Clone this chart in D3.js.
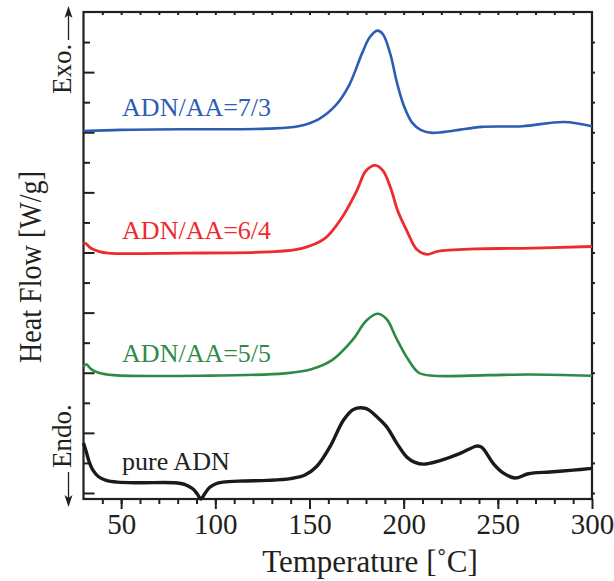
<!DOCTYPE html>
<html>
<head>
<meta charset="utf-8">
<script src="https://cdn.jsdelivr.net/npm/d3@7"></script>
<style>
  body { margin: 0; background: #fff; }
  svg text { font-family: "Liberation Serif", "Times New Roman", serif; }
</style>
</head>
<body>
<div id="chart"></div>
<script>
// DSC curves, heat flow (arbitrary, stacked units)
const pureT  = [30, 31.5, 33, 35, 38, 42, 48, 60, 78, 84, 88, 90.5, 92.3, 94.2, 96.9, 100, 104, 115, 127.6, 140, 147.6, 153.8, 160.9, 168, 173.3, 179.5, 182, 185.7, 191, 196.3, 201.6, 206, 210.5, 219.3, 230, 238.8, 241.5, 247.6, 253, 259.2, 266.2, 277.7, 290, 300];
const pureHF = [0.83, 0.68, 0.52, 0.38, 0.27, 0.21, 0.18, 0.17, 0.17, 0.14, 0.07, -0.02, -0.1, -0.02, 0.09, 0.15, 0.18, 0.20, 0.21, 0.24, 0.30, 0.44, 0.77, 1.21, 1.39, 1.41, 1.37, 1.27, 1.10, 0.83, 0.60, 0.51, 0.48, 0.54, 0.66, 0.78, 0.76, 0.49, 0.33, 0.25, 0.32, 0.35, 0.38, 0.41];

const r55T  = [30, 31.5, 34, 38, 46, 93, 137, 151, 162, 173, 180, 186, 191, 196, 202, 208, 216, 245, 267, 300];
const r55HF = [2.10, 2.14, 2.06, 2.00, 1.96, 1.95, 1.99, 2.06, 2.21, 2.55, 2.86, 2.98, 2.89, 2.58, 2.24, 2.00, 1.95, 1.96, 1.97, 1.95];

const r64T  = [30, 31, 34, 38, 43, 82, 128, 146, 158, 167, 175, 180, 185, 189, 193, 197, 202, 207, 212.6, 218, 238, 263, 300];
const r64HF = [4.14, 4.15, 4.07, 4.02, 3.99, 3.99, 4.01, 4.07, 4.23, 4.57, 5.02, 5.36, 5.45, 5.36, 5.08, 4.68, 4.34, 4.05, 3.97, 4.02, 4.06, 4.07, 4.10];

const r73T  = [30, 50, 82, 110, 128, 144, 155, 164, 171, 178, 182, 186, 189, 193, 196.3, 200, 204.5, 209, 215, 227, 241.5, 263, 285, 300];
const r73HF = [6.02, 6.04, 6.05, 6.05, 6.06, 6.10, 6.22, 6.45, 6.78, 7.32, 7.58, 7.69, 7.63, 7.29, 6.84, 6.45, 6.16, 6.04, 5.99, 6.03, 6.09, 6.10, 6.17, 6.10];

const seriesNames  = ['ADN/AA=7/3', 'ADN/AA=6/4', 'ADN/AA=5/5', 'pure ADN'];
const seriesColors = ['#2d5db3', '#ee2a2e', '#2e8b47', '#1a1a1a'];
// where each name sits: [temperature, heat flow]
const labelT  = [50.5, 50.5, 50.5, 50.5];
const labelHF = [6.27, 4.23, 2.18, 0.38];

const xTicks = [50, 100, 150, 200, 250, 300];

const width = 614;
const height = 581;

const svg = d3.select('#chart')
              .append('svg')
              .attr('width', width)
              .attr('height', height);

const x = d3.scaleLinear()
            .domain([30, 300])
            .range([83.5, 592]);

const y = d3.scaleLinear()
            .domain([-0.1, 8])
            .range([499, 12]);

const ink = '#231f20';

// bottom axis, ticks outward
svg.append('g')
   .attr('transform', `translate(0, ${y(-0.1)})`)
   .call(d3.axisBottom(x).tickValues(d3.range(40, 300, 10)).tickSize(5).tickFormat(''))
   .call(g => g.select('.domain').remove());

svg.append('g')
   .attr('transform', `translate(0, ${y(-0.1)})`)
   .call(d3.axisBottom(x).tickValues(xTicks).tickSize(10).tickPadding(4))
   .call(g => g.select('.domain').remove())
   .selectAll('text')
   .attr('font-size', 29)
   .attr('fill', ink);

// top axis, tiny ticks
svg.append('g')
   .attr('transform', `translate(0, ${y(8)})`)
   .call(d3.axisBottom(x).tickValues(d3.range(40, 300, 10)).tickSize(3).tickFormat(''))
   .call(g => g.select('.domain').remove());

// left axis, ticks inward, alternating long / short
svg.append('g')
   .attr('transform', `translate(${x(30)}, 0)`)
   .call(d3.axisRight(y).tickValues(d3.range(0.5, 8, 1)).tickSize(6.5).tickFormat(''))
   .call(g => g.select('.domain').remove());

svg.append('g')
   .attr('transform', `translate(${x(30)}, 0)`)
   .call(d3.axisRight(y).tickValues(d3.range(0, 8, 1)).tickSize(11).tickFormat(''))
   .call(g => g.select('.domain').remove());

// right axis, tiny ticks
svg.append('g')
   .attr('transform', `translate(${x(300)}, 0)`)
   .call(d3.axisRight(y).tickValues(d3.range(0, 8, 0.5)).tickSize(3).tickFormat(''))
   .call(g => g.select('.domain').remove());

svg.selectAll('.tick line')
   .attr('stroke', ink)
   .attr('stroke-width', 2);

// frame
svg.append('rect')
   .attr('x', x(30))
   .attr('y', y(8))
   .attr('width', x(300) - x(30))
   .attr('height', y(-0.1) - y(8))
   .attr('fill', 'none')
   .attr('stroke', ink)
   .attr('stroke-width', 2.2);

// curves
const curves = [
  {t: r73T, hf: r73HF, w: 2.6},
  {t: r64T, hf: r64HF, w: 2.8},
  {t: r55T, hf: r55HF, w: 2.6},
  {t: pureT, hf: pureHF, w: 3.4}
];

const line = d3.line()
               .x(d => x(d[0]))
               .y(d => y(d[1]))
               .curve(d3.curveCatmullRom.alpha(0.5));

curves.forEach((c, i) => {
  svg.append('path')
     .datum(d3.zip(c.t, c.hf))
     .attr('fill', 'none')
     .attr('stroke', seriesColors[i])
     .attr('stroke-width', c.w)
     .attr('stroke-linejoin', 'round')
     .attr('d', line);

  svg.append('text')
     .attr('x', x(labelT[i]))
     .attr('y', y(labelHF[i]))
     .attr('font-size', 26)
     .attr('fill', i === 3 ? '#222' : seriesColors[i])
     .text(seriesNames[i]);
});

// axis titles
svg.append('text')
   .attr('x', 370)
   .attr('y', 572)
   .attr('text-anchor', 'middle')
   .attr('font-size', 31)
   .attr('fill', ink)
   .text('Temperature [˚C]');

svg.append('text')
   .attr('transform', 'translate(41, 267) rotate(-90)')
   .attr('text-anchor', 'middle')
   .attr('font-size', 31)
   .attr('textLength', 192)
   .attr('lengthAdjust', 'spacingAndGlyphs')
   .attr('fill', ink)
   .text('Heat Flow [W/g]');

// Exo. / Endo. markers with arrows
svg.append('text')
   .attr('transform', 'translate(71, 94) rotate(-90)')
   .attr('font-size', 27)
   .attr('fill', ink)
   .text('Exo.');

svg.append('text')
   .attr('transform', 'translate(71, 468) rotate(-90)')
   .attr('text-anchor', 'start')
   .attr('font-size', 27)
   .attr('fill', ink)
   .text('Endo.');

function arrow(x0, yFrom, yTo) {
  const dir = yTo < yFrom ? 1 : -1;
  svg.append('line')
     .attr('x1', x0).attr('x2', x0)
     .attr('y1', yFrom).attr('y2', yTo + dir * 6)
     .attr('stroke', ink)
     .attr('stroke-width', 1.3);
  svg.append('path')
     .attr('d', `M${x0},${yTo} L${x0 - 4},${yTo + dir * 12} L${x0},${yTo + dir * 9} L${x0 + 4},${yTo + dir * 12} Z`)
     .attr('fill', ink);
}
arrow(68.5, 40, 6);
arrow(68.5, 472, 507);
</script>
</body>
</html>
